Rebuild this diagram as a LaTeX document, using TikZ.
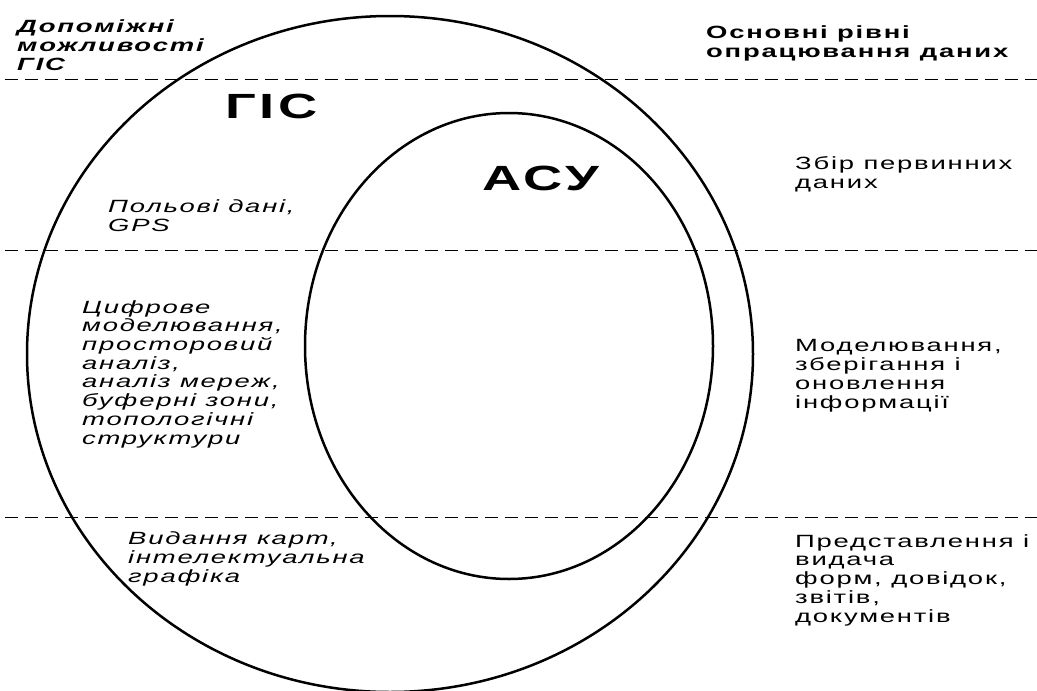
\documentclass[tikz,border=0pt]{standalone}
\usepackage{fontspec}
\setmainfont{Liberation Sans}[FakeStretch=1.55,LetterSpace=10]
\begin{document}
\begin{tikzpicture}[x=1pt,y=-1pt,
    level/.style={dash pattern=on 13pt off 7pt,line width=0.9pt},
    ring/.style={line width=2.5pt},
    note/.style={anchor=base west,align=left,inner sep=0pt,font=\fontsize{17.7}{18.7}\selectfont},
    title/.style={anchor=base west,inner sep=0pt,font=\bfseries\fontsize{35}{40}\selectfont}]
    \useasboundingbox[fill=white] (0,0) rectangle (1037,691);
    \draw[level] (5,79) -- (1037,79);
    \draw[level] (5,250) -- (1037,250);
    \draw[level] (5,517) -- (1037,517);
    \draw[ring] (390,354) ellipse [x radius=363pt,y radius=338pt];
    \draw[ring] (509,346) ellipse [x radius=204pt,y radius=233pt];

    \node[title] (gis) at (225,118) {ГІС};
    \node[title] (asu) at (482,190) {АСУ};

    \node[note,font=\bfseries\itshape\fontsize{17.7}{18.7}\selectfont] (aux) at (17,70) {Допоміжні\\можливості\\ГІС};
    \node[note,font=\bfseries\fontsize{17.7}{18.7}\selectfont] (main) at (706,57) {Основні рівні\\опрацювання даних};

    \node[note,font=\itshape\fontsize{17.7}{18.7}\selectfont] (field) at (108,231) {Польові дані,\\GPS};
    \node[note,font=\itshape\fontsize{17.7}{18.7}\selectfont] (model) at (82,444) {Цифрове\\моделювання,\\просторовий\\аналіз,\\аналіз мереж,\\буферні зони,\\топологічні\\структури};
    \node[note,font=\itshape\fontsize{17.7}{18.7}\selectfont] (maps) at (128,582) {Видання карт,\\інтелектуальна\\графіка};

    \node[note] (collect) at (795,188) {Збір первинних\\даних};
    \node[note] (store) at (795,408) {Моделювання,\\зберігання і\\оновлення\\інформації};
    \node[note] (output) at (795,622) {Представлення і\\видача\\форм, довідок,\\звітів,\\документів};
\end{tikzpicture}
\end{document}
